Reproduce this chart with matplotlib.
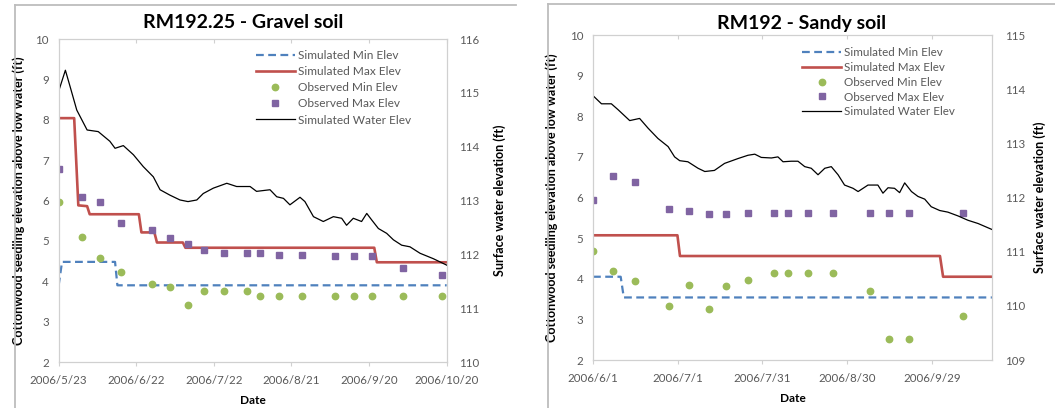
import numpy as np
import matplotlib.pyplot as plt
import matplotlib.dates as mdates
from matplotlib.lines import Line2D

plt.rcParams['font.family'] = ['Lato', 'DejaVu Sans']

# ---------------- RM192.25 - Gravel soil ----------------
g_start = np.datetime64('2006-05-23')
g_obs_days = [0, 9, 16, 24, 36, 43, 50, 56, 64, 73, 78, 85, 94, 107, 114, 121, 133, 148]
g_obs_max = [6.78, 6.08, 5.97, 5.45, 5.27, 5.08, 4.93, 4.78, 4.69, 4.69, 4.69, 4.65, 4.65,
             4.63, 4.63, 4.63, 4.33, 4.16]
g_obs_min = [5.97, 5.10, 4.58, 4.24, 3.94, 3.86, 3.41, 3.76, 3.76, 3.76, 3.64, 3.64, 3.64,
             3.64, 3.64, 3.64, 3.64, 3.64]
g_max_days = [0, 6, 7.6, 11, 12, 31, 32, 37, 38, 48, 49, 122, 123, 150]
g_max_vals = [8.04, 8.04, 5.88, 5.86, 5.66, 5.66, 5.21, 5.21, 4.96, 4.96, 4.83, 4.83, 4.47, 4.47]
g_min_days = [0, 1.3, 21.8, 22.7, 150]
g_min_vals = [3.90, 4.48, 4.48, 3.90, 3.90]
g_wat_days = [0, 2.6, 4.4, 7, 11, 15.3, 19.8, 21.8, 25, 28.9, 32.7, 36.6, 39.2, 43, 46.9, 50,
              53.4, 55.9, 59.8, 65, 68.8, 74, 76.5, 81.7, 84.3, 86.9, 89.4, 93.3, 95.2, 98.5,
              102.3, 106.2, 109.4, 111.3, 113.9, 117.1, 119.1, 121, 123.6, 126.8, 129.4,
              132.6, 135.8, 139.7, 144.8, 150]
g_wat_vals = [115.03, 115.42, 115.12, 114.68, 114.31, 114.28, 114.10, 113.97, 114.02, 113.85,
              113.63, 113.44, 113.20, 113.10, 113.01, 112.98, 113.01, 113.13, 113.23, 113.32,
              113.26, 113.26, 113.17, 113.20, 113.07, 113.04, 112.92, 113.06, 112.98, 112.70,
              112.61, 112.70, 112.67, 112.54, 112.67, 112.61, 112.76, 112.64, 112.48, 112.39,
              112.27, 112.17, 112.14, 112.02, 111.92, 111.80]

# ---------------- RM192 - Sandy soil ----------------
s_start = np.datetime64('2006-06-01')
s_obs_days = [0, 7, 15, 27, 34, 41, 47, 55, 64, 69, 76, 85, 98, 105, 112, 131]
s_obs_max = [5.94, 6.53, 6.39, 5.71, 5.68, 5.59, 5.59, 5.61, 5.61, 5.61, 5.61, 5.61, 5.61,
             5.61, 5.61, 5.61]
s_obs_min = [4.69, 4.18, 3.94, 3.32, 3.85, 3.26, 3.82, 3.97, 4.15, 4.15, 4.15, 4.15, 3.71,
             2.51, 2.51, 3.08]
s_max_days = [0, 29.9, 30.8, 122.9, 124, 141.3]
s_max_vals = [5.07, 5.07, 4.56, 4.56, 4.05, 4.05]
s_min_days = [0, 9.8, 10.9, 141.3]
s_min_vals = [4.05, 4.05, 3.54, 3.54]
s_wat_days = [0, 3, 6.5, 8.9, 13, 16.5, 19.5, 23, 26.6, 28.9, 30.7, 33.6, 37.2, 39.6, 43,
              46.6, 51.4, 54.9, 57.3, 59.6, 63.2, 65.5, 67.3, 70.2, 72.6, 75, 77.3, 79.7,
              82.1, 84.4, 86.8, 89.1, 92.1, 93.9, 97.4, 100.9, 102.7, 104.5, 106.8, 108.6,
              110.4, 112.8, 115.1, 117.5, 119.8, 122.8, 125.7, 129.3, 132.8, 136.4, 141.3]
s_wat_vals = [113.88, 113.73, 113.73, 113.62, 113.42, 113.46, 113.28, 113.09, 112.94, 112.75,
              112.68, 112.66, 112.54, 112.48, 112.50, 112.63, 112.72, 112.78, 112.80, 112.74,
              112.73, 112.75, 112.66, 112.67, 112.67, 112.57, 112.54, 112.42, 112.54, 112.57,
              112.42, 112.23, 112.17, 112.11, 112.23, 112.23, 112.08, 112.18, 112.17, 112.09,
              112.27, 112.11, 112.02, 111.97, 111.83, 111.76, 111.73, 111.66, 111.58, 111.52,
              111.41]

BLUE = '#4F81BD'
RED = '#C0504D'
GREEN = '#9BBB59'
PURPLE = '#8064A2'
TXT = '#595959'
SPINE = '#d0d0d0'


def to_dates(start, days):
    # day offsets -> datetimes
    return start + (np.array(days) * 24 * 60).astype('timedelta64[m]')


def date_fmt(x, pos):
    d = mdates.num2date(x)
    return f'{d.year}/{d.month}/{d.day}'


def draw_panel(ax, start, end, ticks, right_lim, obs_days, obs_max, obs_min,
               max_days, max_vals, min_days, min_vals, wat_days, wat_vals,
               leg_anchor, leg_size, leg_space):
    ax2 = ax.twinx()
    l_min, = ax.plot(to_dates(start, min_days), min_vals, color=BLUE, lw=1.6,
                     dashes=(3.5, 2), label='Simulated Min Elev')
    l_max, = ax.plot(to_dates(start, max_days), max_vals, color=RED, lw=1.9,
                     label='Simulated Max Elev')
    p_min, = ax.plot(to_dates(start, obs_days), obs_min, 'o', color=GREEN, ms=4.6,
                     label='Observed Min Elev')
    p_max, = ax.plot(to_dates(start, obs_days), obs_max, 's', color=PURPLE, ms=4.8,
                     label='Observed Max Elev')
    l_wat, = ax2.plot(to_dates(start, wat_days), wat_vals, color='black', lw=0.9,
                      label='Simulated Water Elev')

    ax.set_xlim(start, end)
    ax.set_ylim(2, 10)
    ax2.set_ylim(*right_lim)
    ax.set_yticks(range(2, 11))
    ax2.set_yticks(range(right_lim[0], right_lim[1] + 1))
    ax.set_xticks(ticks)
    ax.xaxis.set_major_formatter(plt.FuncFormatter(date_fmt))

    for a in (ax, ax2):
        for s in a.spines.values():
            s.set_color(SPINE)
        a.tick_params(colors=TXT, labelsize=8.3, length=0)
    ax.tick_params(axis='x', length=3, color=SPINE, pad=6)
    ax.tick_params(axis='y', pad=7)
    ax2.tick_params(axis='y', pad=9)
    top = ax.secondary_xaxis('top')
    top.set_xticks(ticks)
    top.tick_params(direction='in', length=3, color=SPINE, labeltop=False)
    top.spines['top'].set_visible(False)

    ax.set_ylabel('Cottonwood seedling elevation above low water (ft)',
                  fontsize=9, fontweight='bold')
    ax2.set_ylabel('Surface water elevation (ft)', fontsize=9, fontweight='bold',
                   rotation=90)
    ax.set_xlabel('Date', fontsize=8.6, fontweight='bold')
    ax.xaxis.set_label_coords(0.5, -0.102)

    leg = ax2.legend([l_min, l_max, p_min, p_max, l_wat],
                     [h.get_label() for h in (l_min, l_max, p_min, p_max, l_wat)],
                     loc='upper left', bbox_to_anchor=leg_anchor, frameon=False,
                     fontsize=leg_size, labelspacing=leg_space, handlelength=3.3,
                     handletextpad=0.25, borderpad=0, borderaxespad=0)
    for t in leg.get_texts():
        t.set_color(TXT)
    return ax2


fig = plt.figure(figsize=(10.55, 4.08), dpi=100)

axg = fig.add_axes([0.0556, 0.1127, 0.3678, 0.7917])
g_end = g_start + np.timedelta64(150, 'D')
g_ticks = [g_start + np.timedelta64(30 * i, 'D') for i in range(6)]
axg2 = draw_panel(axg, g_start, g_end, g_ticks, (110, 116), g_obs_days, g_obs_max,
                  g_obs_min, g_max_days, g_max_vals, g_min_days, g_min_vals,
                  g_wat_days, g_wat_vals, (0.508, 0.966), 8.6, 0.43)
axg.yaxis.set_label_coords(-0.087, 0.5)
axg2.yaxis.set_label_coords(1.119, 0.5)

axs = fig.add_axes([0.5621, 0.1176, 0.3782, 0.7966])
s_end = s_start + np.timedelta64(141 * 24 + 8, 'h')
s_ticks = [s_start + np.timedelta64(30 * i, 'D') for i in range(5)]
axs2 = draw_panel(axs, s_start, s_end, s_ticks, (109, 115), s_obs_days, s_obs_max,
                  s_obs_min, s_max_days, s_max_vals, s_min_days, s_min_vals,
                  s_wat_days, s_wat_vals, (0.525, 0.962), 8.4, 0.32)
axs.yaxis.set_label_coords(-0.088, 0.5)
axs2.yaxis.set_label_coords(1.103, 0.5)

fig.text(243 / 1055, 1 - 23 / 408, 'RM192.25 - Gravel soil', ha='center', va='center',
         fontsize=14, fontweight='bold')
fig.text(802 / 1055, 1 - 23 / 408, 'RM192 - Sandy soil', ha='center', va='center',
         fontsize=14, fontweight='bold')

# chart frames
W, H = 1055, 408
frame = dict(color='#bdbdbd', lw=1.3, transform=fig.transFigure)
fig.add_artist(Line2D([15 / W, 15 / W], [0, 1 - 5 / H], **frame))
fig.add_artist(Line2D([15 / W, 516 / W], [1 - 5 / H, 1 - 5 / H], **frame))
fig.add_artist(Line2D([548 / W, 548 / W], [0, 1 - 4 / H], **frame))
fig.add_artist(Line2D([548 / W, 1], [1 - 4 / H, 1 - 4 / H], **frame))

fig.savefig('out.png', dpi=100)
